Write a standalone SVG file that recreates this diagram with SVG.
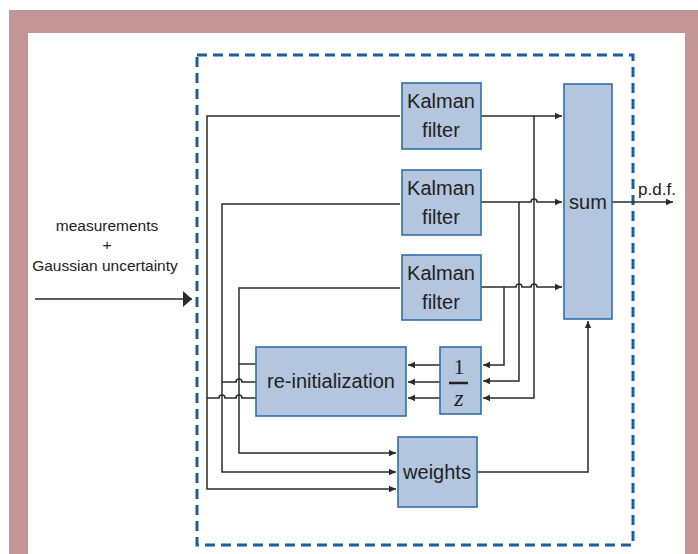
<svg xmlns="http://www.w3.org/2000/svg" width="698" height="554" viewBox="0 0 698 554">
<defs>
<style>
.box{fill:#b4c5de;stroke:#2f6fae;stroke-width:1.6}
.ln{fill:none;stroke:#2b2b2b;stroke-width:1.5}
.t{font-family:"Liberation Sans",Arial,sans-serif;font-size:20px;fill:#222;text-anchor:middle}
.s{font-family:"Liberation Sans",Arial,sans-serif;font-size:15.5px;fill:#222;text-anchor:middle}
</style>
<marker id="ah" markerUnits="userSpaceOnUse" markerWidth="8" markerHeight="8" viewBox="0 0 8 8" refX="7" refY="4" orient="auto">
<path d="M0,0.8 L7,4 L0,7.2 Z" fill="#2b2b2b"/>
</marker>
<marker id="big" markerUnits="userSpaceOnUse" markerWidth="10" markerHeight="16" viewBox="0 0 10 16" refX="9" refY="8" orient="auto">
<path d="M0,0 L9,8 L0,16 Z" fill="#2b2b2b"/>
</marker>
</defs>
<rect x="0" y="0" width="698" height="554" fill="#ffffff"/>
<path d="M9,554 V10 H698 V554 H685 V33 H28 V554 Z" fill="#c49595"/>
<rect x="197" y="55" width="436" height="490" fill="none" stroke="#1c5fa0" stroke-width="3" stroke-dasharray="10,6"/>
<g id="connectors">
<line class="ln" x1="35" y1="299" x2="192" y2="299" marker-end="url(#big)"/>
<path class="ln" d="M400,116 H207 V489 H396" marker-end="url(#ah)"/>
<path class="ln" d="M400,204 H222 V472 H396" marker-end="url(#ah)"/>
<path class="ln" d="M400,288 H239 V453 H396" marker-end="url(#ah)"/>
<path class="ln" d="M256,364 H239"/>
<path class="ln" d="M256,382 H242 A3,3 0 0 0 236,382 H222"/>
<path class="ln" d="M256,398 H242 A3,3 0 0 0 236,398 H225 A3,3 0 0 0 219,398 H207"/>
<path class="ln" d="M481,116 H562" marker-end="url(#ah)"/>
<path class="ln" d="M481,202 H531 A3,3 0 0 1 537,202 H562" marker-end="url(#ah)"/>
<path class="ln" d="M481,287 H516 A3,3 0 0 1 522,287 H531 A3,3 0 0 1 537,287 H562" marker-end="url(#ah)"/>
<path class="ln" d="M534,116 V398 H483" marker-end="url(#ah)"/>
<path class="ln" d="M519,202 V381 H483" marker-end="url(#ah)"/>
<path class="ln" d="M504,287 V365 H483" marker-end="url(#ah)"/>
<path class="ln" d="M440,365 H408" marker-end="url(#ah)"/>
<path class="ln" d="M440,382 H408" marker-end="url(#ah)"/>
<path class="ln" d="M440,398 H408" marker-end="url(#ah)"/>
<path class="ln" d="M477,472 H588 V321" marker-end="url(#ah)"/>
<path class="ln" d="M612,202 H673" marker-end="url(#ah)"/>
</g>
<g id="kf1"><rect class="box" x="402" y="83" width="79" height="66"/><text class="t" x="441" y="108">Kalman</text><text class="t" x="441" y="137">filter</text></g>
<g id="kf2"><rect class="box" x="402" y="170" width="79" height="65"/><text class="t" x="441" y="195">Kalman</text><text class="t" x="441" y="224">filter</text></g>
<g id="kf3"><rect class="box" x="402" y="255" width="79" height="65"/><text class="t" x="441" y="280">Kalman</text><text class="t" x="441" y="309">filter</text></g>
<g id="sum"><rect class="box" x="564" y="84" width="48" height="235"/><text class="t" x="588" y="209" font-size="19">sum</text></g>
<g id="reinit"><rect class="box" x="256" y="347" width="150" height="69"/><text class="t" x="331" y="388">re-initialization</text></g>
<g id="delay"><rect class="box" x="440" y="347" width="41" height="67"/><text x="459" y="374" font-family="Liberation Serif,serif" font-size="22" fill="#222" text-anchor="middle">1</text><line x1="449" y1="383" x2="468" y2="383" stroke="#222" stroke-width="2.5"/><text x="459" y="406" font-family="Liberation Serif,serif" font-style="italic" font-size="24" fill="#222" text-anchor="middle">z</text></g>
<g id="weights"><rect class="box" x="398" y="437" width="79" height="70"/><text class="t" x="437" y="479">weights</text></g>
<g id="input-label"><text class="s" x="107" y="231">measurements</text><text class="s" x="107" y="250">+</text><text class="s" x="105" y="271">Gaussian uncertainty</text></g>
<text x="657" y="195" font-family="Liberation Sans,Arial,sans-serif" font-size="17" fill="#222" text-anchor="middle">p.d.f.</text>
</svg>
